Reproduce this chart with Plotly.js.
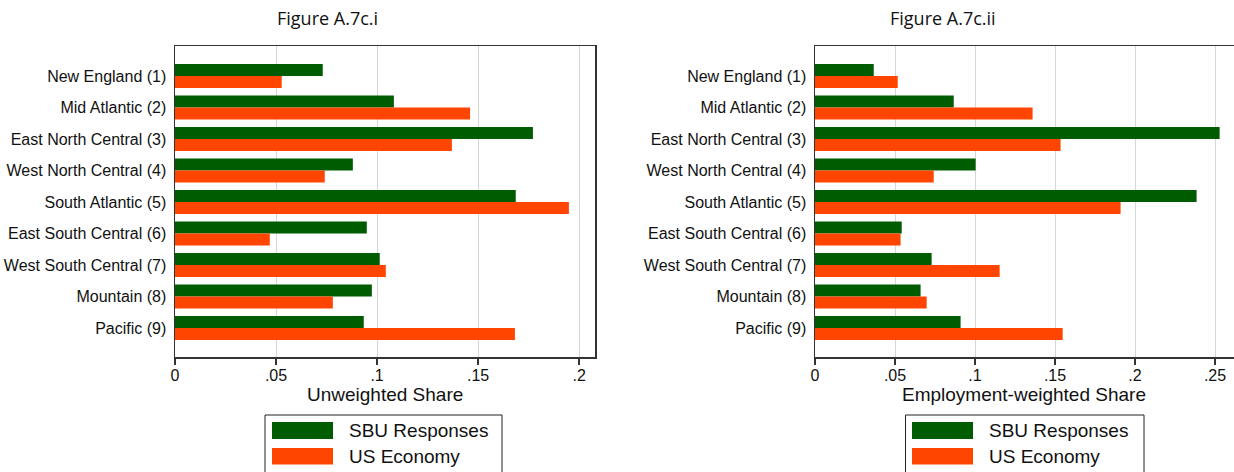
<!DOCTYPE html>
<html>
<head>
<meta charset="utf-8">
<script src="https://cdn.plot.ly/plotly-3.0.1.min.js"></script>
<style>
  html, body { margin: 0; padding: 0; background: #ffffff; }
  #chart { width: 1234px; height: 472px; }
</style>
</head>
<body>
<div id="chart"></div>
<script>
// ---- Data ----
const regions = [
  "New England (1)", "Mid Atlantic (2)", "East North Central (3)",
  "West North Central (4)", "South Atlantic (5)", "East South Central (6)",
  "West South Central (7)", "Mountain (8)", "Pacific (9)"
];
const sbuUnweighted = [0.0731, 0.1083, 0.1771, 0.0880, 0.1686, 0.0949, 0.1013, 0.0974, 0.0934];
const usUnweighted  = [0.0528, 0.1460, 0.1370, 0.0741, 0.1949, 0.0469, 0.1043, 0.0781, 0.1682];
const sbuWeighted   = [0.0367, 0.0867, 0.2529, 0.1004, 0.2385, 0.0542, 0.0729, 0.0660, 0.0910];
const usWeighted    = [0.0517, 0.1360, 0.1535, 0.0742, 0.1910, 0.0535, 0.1154, 0.0698, 0.1548];
const seriesNames = ["SBU Responses", "US Economy"];
const panelTitles = ["Figure A.7c.i", "Figure A.7c.ii"];
const axisTitles = ["Unweighted Share", "Employment-weighted Share"];
const tickVals1 = [0, 0.05, 0.1, 0.15, 0.2];
const tickText1 = ["0", ".05", ".1", ".15", ".2"];
const tickVals2 = [0, 0.05, 0.1, 0.15, 0.2, 0.25];
const tickText2 = ["0", ".05", ".1", ".15", ".2", ".25"];

// ---- Styling ----
const W = 1234, H = 472;
const GREEN = "#005c00", ORANGE = "#ff4500";
const FONT = "Liberation Sans, Arial, Helvetica, sans-serif";
const px = v => v / W;
const py = v => 1 - v / H;

const traces = [
  {type: "bar", orientation: "h", y: regions, x: sbuUnweighted, name: seriesNames[0],
   marker: {color: GREEN}, xaxis: "x", yaxis: "y", showlegend: false, hoverinfo: "x+y"},
  {type: "bar", orientation: "h", y: regions, x: usUnweighted, name: seriesNames[1],
   marker: {color: ORANGE}, xaxis: "x", yaxis: "y", showlegend: false, hoverinfo: "x+y"},
  {type: "bar", orientation: "h", y: regions, x: sbuWeighted, name: seriesNames[0],
   marker: {color: GREEN}, xaxis: "x2", yaxis: "y2", showlegend: false, hoverinfo: "x+y"},
  {type: "bar", orientation: "h", y: regions, x: usWeighted, name: seriesNames[1],
   marker: {color: ORANGE}, xaxis: "x2", yaxis: "y2", showlegend: false, hoverinfo: "x+y"}
];

const yDomain = [py(357), py(46)];
const xCommon = {
  showline: true, linecolor: "#333333", linewidth: 1.5, mirror: true,
  showgrid: true, gridcolor: "#d6d6d6", gridwidth: 1, zeroline: false,
  ticks: "outside", ticklen: 6, tickwidth: 1.5, tickcolor: "#333333",
  ticklabelstandoff: -3,
  tickfont: {family: FONT, size: 16, color: "#111111"},
  fixedrange: true
};
const yCommon = {
  type: "category", range: [8.92, -0.952], domain: yDomain,
  showline: true, linecolor: "#333333", linewidth: 1.5, mirror: true,
  showgrid: false, zeroline: false,
  ticks: "outside", ticklen: 4, tickcolor: "rgba(0,0,0,0)",
  tickfont: {family: FONT, size: 16, color: "#111111"}, fixedrange: true
};

const layout = {
  width: W, height: H,
  margin: {l: 0, r: 0, t: 0, b: 0},
  paper_bgcolor: "#ffffff", plot_bgcolor: "#ffffff",
  barmode: "group", bargap: 0.238, bargroupgap: 0,
  showlegend: false,
  xaxis: Object.assign({}, xCommon, {
    domain: [px(175), px(595)], range: [0, 420 / 2021], anchor: "y",
    tickvals: tickVals1, ticktext: tickText1
  }),
  yaxis: Object.assign({}, yCommon, {anchor: "x"}),
  xaxis2: Object.assign({}, xCommon, {
    domain: [px(815), px(1233.5)], range: [0, 418.5 / 1600], anchor: "y2",
    tickvals: tickVals2, ticktext: tickText2
  }),
  yaxis2: Object.assign({}, yCommon, {anchor: "x2"}),
  annotations: [
    {xref: "paper", yref: "paper", x: px(327), y: py(18), xanchor: "center", yanchor: "middle",
     text: panelTitles[0], showarrow: false, font: {family: "Open Sans, Noto Sans, sans-serif", size: 18, color: "#111111"}},
    {xref: "paper", yref: "paper", x: px(943), y: py(18), xanchor: "center", yanchor: "middle",
     text: panelTitles[1], showarrow: false, font: {family: "Open Sans, Noto Sans, sans-serif", size: 18, color: "#111111"}},
    {xref: "paper", yref: "paper", x: px(385), y: py(394), xanchor: "center", yanchor: "middle",
     text: axisTitles[0], showarrow: false, font: {family: FONT, size: 19, color: "#111111"}},
    {xref: "paper", yref: "paper", x: px(1024), y: py(394), xanchor: "center", yanchor: "middle",
     text: axisTitles[1], showarrow: false, font: {family: FONT, size: 19, color: "#111111"}}
  ],
  shapes: []
};

// Legends (one per panel), drawn as boxes with colour keys
function addLegend(boxL, boxR, swL, swR, textX) {
  layout.shapes.push({type: "rect", xref: "paper", yref: "paper",
    x0: px(boxL), x1: px(boxR), y0: py(480), y1: py(415),
    line: {color: "#222222", width: 1}, fillcolor: "rgba(0,0,0,0)"});
  const rows = [[422, 439, GREEN, seriesNames[0], 430.5], [448, 464.5, ORANGE, seriesNames[1], 456.5]];
  rows.forEach(r => {
    layout.shapes.push({type: "rect", xref: "paper", yref: "paper",
      x0: px(swL), x1: px(swR), y0: py(r[1]), y1: py(r[0]),
      line: {width: 0}, fillcolor: r[2]});
    layout.annotations.push({xref: "paper", yref: "paper", x: px(textX), y: py(r[4]),
      xanchor: "left", yanchor: "middle", text: r[3], showarrow: false,
      font: {family: FONT, size: 19, color: "#111111"}});
  });
}
addLegend(265, 502, 272, 333, 347);
addLegend(905.5, 1144, 912, 973, 987);

Plotly.newPlot("chart", traces, layout, {displayModeBar: false, staticPlot: true});
</script>
</body>
</html>
